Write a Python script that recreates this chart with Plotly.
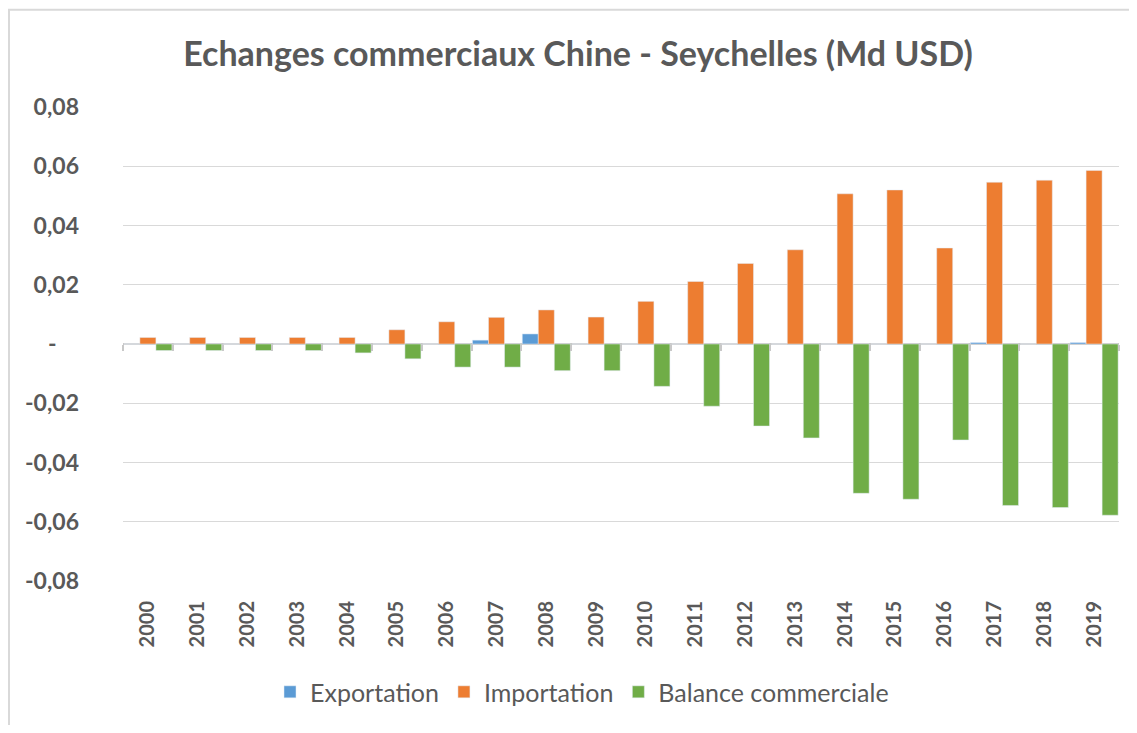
import plotly.graph_objects as go

years = [str(y) for y in range(2000, 2020)]
exportation = [0, 0, 0, 0, 0, 0, 0, 0.0013, 0.0034, 0,
               0, 0, 0, 0, 0, 0, 0, 0.0005, 0, 0.0005]
importation = [0.0022, 0.0022, 0.0022, 0.0022, 0.0022, 0.0048, 0.0075, 0.0090, 0.0115, 0.0091,
               0.0144, 0.0211, 0.0272, 0.0318, 0.0507, 0.0520, 0.0324, 0.0546, 0.0553, 0.0586]
balance = [-0.0022, -0.0022, -0.0022, -0.0022, -0.0030, -0.0050, -0.0078, -0.0078, -0.0090, -0.0090,
           -0.0143, -0.0210, -0.0277, -0.0317, -0.0504, -0.0524, -0.0324, -0.0545, -0.0552, -0.0578]
y_tickvals = [-0.08, -0.06, -0.04, -0.02, 0, 0.02, 0.04, 0.06, 0.08]
y_ticktext = ["-0,08", "-0,06", "-0,04", "-0,02", "-\u00a0\u00a0\u00a0\u00a0", "0,02", "0,04", "0,06", "0,08"]

# page has an 8px body margin, so the figure starts at (8, 8) in the window
OFF = 8
W, H = 1137 - 2 * OFF, 733 - 2 * OFF
ML, MR, MT, MB = 123 - OFF, 1137 - OFF - 1119, 107 - OFF, H - (585 - OFF)
PW, PH = W - ML - MR, H - MT - MB

TXT = "#595959"
FONT = "Lato"

fig = go.Figure()
fig.add_trace(go.Bar(name="Exportation", x=years, y=exportation, marker_color="#5B9BD5"))
fig.add_trace(go.Bar(name="Importation", x=years, y=importation, marker_color="#ED7D31"))
fig.add_trace(go.Bar(name="Balance commerciale", x=years, y=balance, marker_color="#70AD47"))
# helper trace for the category-boundary ticks along the zero line
fig.add_trace(go.Scatter(x=years, y=[0] * len(years), xaxis="x2", mode="lines",
                         line=dict(width=0), showlegend=False, hoverinfo="skip"))

def px_x(p):
    return (p - OFF - ML) / PW

def px_y(p):
    return (H - MB - (p - OFF)) / PH

fig.update_layout(
    width=W, height=H,
    margin=dict(l=ML, r=MR, t=MT, b=MB),
    paper_bgcolor="white", plot_bgcolor="white",
    barmode="group", bargap=0.035, bargroupgap=0,
    title=dict(text="Echanges commerciaux Chine - Seychelles (Md USD)",
               x=px_x(578), xanchor="center", xref="paper", y=1 - (54 - OFF) / H, yanchor="middle",
               font=dict(family=FONT, size=34, color=TXT, weight="bold")),
    font=dict(family=FONT, color=TXT),
    legend=dict(orientation="h", x=px_x(582), xanchor="center", y=px_y(697), yanchor="middle",
                font=dict(family=FONT, size=25, color=TXT), itemwidth=30,
                traceorder="normal"),
    xaxis=dict(type="category", categoryarray=years, range=[-0.5, 19.5],
               showgrid=False, showline=False, ticks="", zeroline=False,
               tickangle=-90, ticklabelstandoff=15,
               tickfont=dict(family=FONT, size=20, color=TXT, weight="bold")),
    xaxis2=dict(type="category", categoryarray=years, range=[-0.5, 19.5],
                overlaying="x", anchor="free", position=0.5, side="bottom",
                showline=False, showgrid=False, showticklabels=False,
                ticks="outside", tickson="boundaries", ticklen=6, tickcolor="#C8C8C8", tickwidth=1.5),
    yaxis=dict(range=[-0.08, 0.08], tickvals=y_tickvals, ticktext=y_ticktext,
               showgrid=True, gridcolor="#D9D9D9", gridwidth=1.3,
               zeroline=True, zerolinecolor="#C8C8C8", zerolinewidth=2,
               showline=False, ticks="", ticklabelstandoff=43,
               tickfont=dict(family=FONT, size=23, color=TXT, weight="bold")),
    shapes=[dict(type="rect", xref="paper", yref="paper",
                 x0=px_x(9), x1=px_x(1250), y0=px_y(800), y1=px_y(9),
                 line=dict(color="#D9D9D9", width=2), fillcolor="rgba(0,0,0,0)", layer="below")],
)

fig.write_html("out.html")
